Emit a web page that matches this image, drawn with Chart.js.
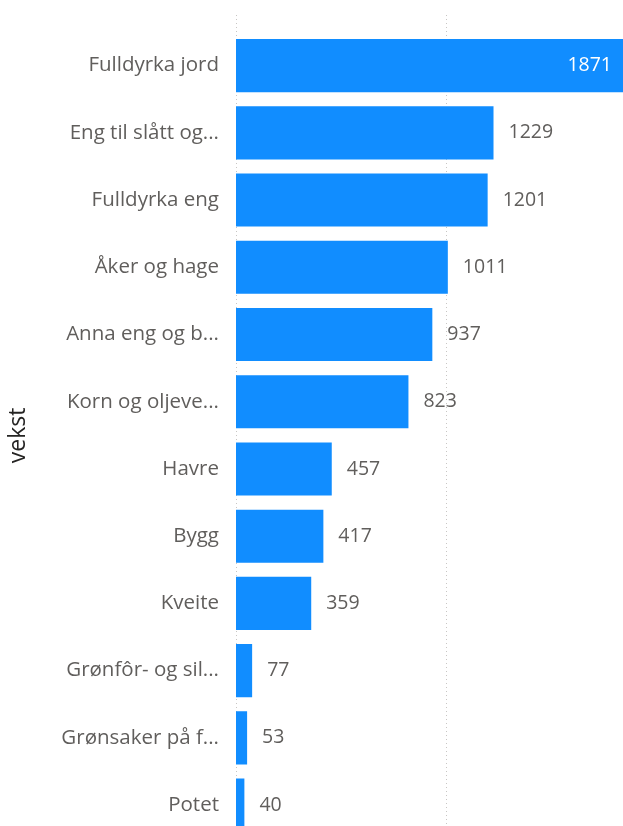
<!DOCTYPE html>
<html>
<head>
<meta charset="utf-8">
<script src="https://cdn.jsdelivr.net/npm/chart.js@4"></script>
<style>
  html, body { margin: 0; padding: 0; background: #fff; overflow: hidden; }
</style>
</head>
<body>
<canvas id="vekst-chart" width="623" height="868"></canvas>
<script>
// kategoriar og verdiar lest av biletet
const vekstLabels = ["Fulldyrka jord", "Eng til slått og...", "Fulldyrka eng", "Åker og hage", "Anna eng og b...", "Korn og oljeve...", "Havre", "Bygg", "Kveite", "Grønfôr- og sil...", "Grønsaker på f...", "Potet"];
const arealValues = [1871, 1229, 1201, 1011, 937, 823, 457, 417, 359, 77, 53, 40];
const gridValues = [0, 1000];
const axisTitle = "vekst";

const fontName = "'Open Sans', 'Noto Sans', sans-serif";

// stipla rutenett frå toppen av biletet
const gridPlugin = {
    id: "dottedGrid",
    beforeDatasetsDraw(chart) {
        const ctx = chart.ctx;
        const x = chart.scales.x;
        ctx.save();
        ctx.strokeStyle = "#c8c6c4";
        ctx.lineWidth = 1;
        ctx.setLineDash([1, 3]);
        gridValues.forEach((v) => {
            const px = Math.round(x.getPixelForValue(v)) + 0.5;
            ctx.beginPath();
            ctx.moveTo(px, 15);
            ctx.lineTo(px, chart.chartArea.bottom);
            ctx.stroke();
        });
        ctx.restore();
    }
};

// dataetikettar ved enden av søylene
const labelPlugin = {
    id: "valueLabels",
    afterDatasetsDraw(chart) {
        const ctx = chart.ctx;
        const meta = chart.getDatasetMeta(0);
        ctx.save();
        ctx.font = "19.5px " + fontName;
        ctx.textBaseline = "middle";
        meta.data.forEach((bar, i) => {
            const txt = String(arealValues[i]);
            const w = ctx.measureText(txt).width;
            if (bar.x + 15 + w > chart.chartArea.right) {
                ctx.fillStyle = "#ffffff";
                ctx.textAlign = "right";
                ctx.fillText(txt, chart.chartArea.right - 11, bar.y);
            } else {
                ctx.fillStyle = "#605e5c";
                ctx.textAlign = "left";
                ctx.fillText(txt, bar.x + 15, bar.y);
            }
        });
        ctx.restore();
    }
};

const chart = new Chart(document.getElementById("vekst-chart").getContext("2d"), {
    type: "bar",
    data: {
        labels: vekstLabels,
        datasets: [
            {
                label: "Areal",
                data: arealValues,
                backgroundColor: "#118dff",
                borderWidth: 0,
                barPercentage: 0.79,
                categoryPercentage: 1,
            },
        ],
    },
    options: {
        indexAxis: "y",
        responsive: false,
        devicePixelRatio: 1,
        animation: false,
        layout: { padding: { top: 32, bottom: 10, left: 0, right: 0 } },
        plugins: {
            legend: { display: false },
            tooltip: { enabled: false },
        },
        scales: {
            x: {
                display: false,
                min: 0,
                max: 1847,
                grid: { display: false },
            },
            y: {
                afterFit(scale) { scale.width = 236; },
                grid: { display: false, drawTicks: false },
                border: { display: false },
                ticks: {
                    padding: 17,
                    color: "#605e5c",
                    font: { family: fontName, size: 20.5 },
                },
                title: {
                    display: true,
                    text: axisTitle,
                    color: "#252423",
                    font: { family: fontName, size: 23 },
                    padding: { top: 5, bottom: 0 },
                },
            },
        },
    },
    plugins: [gridPlugin, labelPlugin],
});
</script>
</body>
</html>
